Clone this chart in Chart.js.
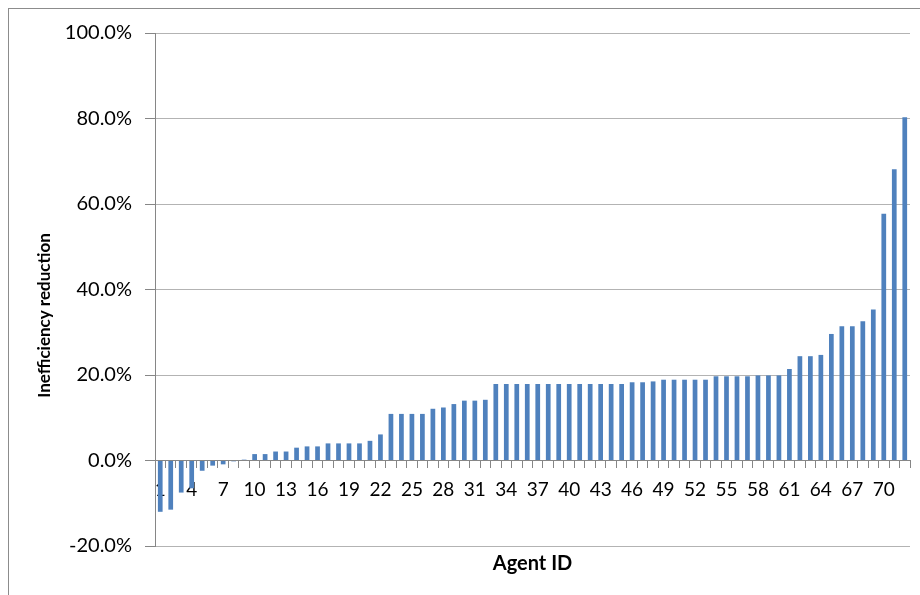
<!DOCTYPE html>
<html>
<head>
<meta charset="utf-8">
<script src="https://cdn.jsdelivr.net/npm/chart.js@4.4.1/dist/chart.umd.min.js"></script>
<style>
  html, body { margin: 0; padding: 0; background: #ffffff; overflow: hidden; }
  #frame { position: absolute; left: 8px; top: 8px; width: 1000px; height: 800px; border: 1px solid #8c8c8c; z-index: 0; }
  #wrap { position: absolute; left: 0; top: 0; width: 920px; height: 595px; z-index: 1; }
</style>
</head>
<body>
<div id="frame"></div>
<div id="wrap"><canvas id="c"></canvas></div>
<script>
// ---- Data ----
const categories = ["1","2","3","4","5","6","7","8","9","10","11","12","13","14","15","16","17","18",
  "19","20","21","22","23","24","25","26","27","28","29","30","31","32","33","34","35","36",
  "37","38","39","40","41","42","43","44","45","46","47","48","49","50","51","52","53","54",
  "55","56","57","58","59","60","61","62","63","64","65","66","67","68","69","70","71","72"];

// Inefficiency reduction, percent
const reduction = [
  -12.0, -11.5, -7.5, -6.5, -2.4, -1.2, -0.9, -0.2, 0.2, 1.5, 1.5, 2.1,
   2.1,   3.0,  3.3,  3.3,  4.0,  4.0,  4.0,  4.0, 4.6, 6.1, 10.9, 10.9,
  10.9,  10.9, 12.1, 12.4, 13.2, 14.0, 14.0, 14.2, 17.9, 17.9, 17.9, 17.9,
  17.9,  17.9, 17.9, 17.9, 17.9, 17.9, 17.9, 17.9, 17.9, 18.3, 18.3, 18.5,
  18.9,  18.9, 18.9, 18.9, 18.9, 19.7, 19.7, 19.7, 19.7, 19.9, 19.9, 19.9,
  21.4,  24.4, 24.4, 24.7, 29.6, 31.4, 31.4, 32.6, 35.3, 57.7, 68.1, 80.3
];

const Y_MIN = -20, Y_MAX = 100, Y_STEP = 20;
const LABEL_EVERY = 3;
const yTitle = "Inefficiency reduction";
const xTitle = "Agent ID";

// ---- Chart ----
const FONT = "Lato, 'Open Sans', sans-serif";

const yTitlePlugin = {
  id: 'yTitle',
  afterDraw(chart) {
    const ctx = chart.ctx;
    const ca = chart.chartArea;
    ctx.save();
    ctx.translate(45, (ca.top + ca.bottom) / 2 + 26);
    ctx.rotate(-Math.PI / 2);
    ctx.font = "bold 17px " + FONT;
    ctx.fillStyle = '#000000';
    ctx.textAlign = 'center';
    ctx.textBaseline = 'middle';
    ctx.fillText(yTitle, 0, 0);
    ctx.restore();
  }
};

new Chart(document.getElementById('c'), {
  type: 'bar',
  data: {
    labels: categories,
    datasets: [{
      data: reduction,
      backgroundColor: '#4f81bd',
      borderWidth: 0,
      barPercentage: 0.45,
      categoryPercentage: 1.0,
      xAxisID: 'x',
      yAxisID: 'y'
    }]
  },
  plugins: [yTitlePlugin],
  options: {
    responsive: true,
    maintainAspectRatio: false,
    animation: false,
    devicePixelRatio: 1,
    layout: { padding: { left: 0, right: 10, top: 33, bottom: 0 } },
    plugins: { legend: { display: false }, tooltip: { enabled: false }, title: { display: false } },
    scales: {
      x: {
        type: 'category',
        position: { y: 0 },
        z: 1,
        offset: true,
        grid: { display: true, drawOnChartArea: false, drawTicks: true, tickLength: 7, offset: true, color: '#868686', tickColor: '#868686' },
        border: { display: true, color: '#868686', width: 1 },
        ticks: {
          autoSkip: false, maxRotation: 0, minRotation: 0, padding: 11,
          color: '#000000',
          font: { family: FONT, size: 19 },
          callback: function(value, index) { return index % LABEL_EVERY === 0 ? categories[index] : ''; }
        }
      },
      xt: {
        type: 'category',
        position: 'bottom',
        grid: { display: false, drawTicks: false },
        border: { display: false },
        ticks: { display: false },
        title: { display: true, text: xTitle, color: '#000000', font: { family: FONT, size: 20, weight: 'bold' }, padding: { top: 6, bottom: 19 } }
      },
      y: {
        type: 'linear',
        position: 'left',
        min: Y_MIN, max: Y_MAX,
        afterFit: function(scale) { scale.width = 155; },
        grid: { color: '#b3b3b3', tickColor: '#868686', tickLength: 10, drawTicks: true },
        border: { display: true, color: '#868686', width: 1 },
        ticks: {
          stepSize: Y_STEP, padding: 13, color: '#000000',
          font: { family: FONT, size: 20 },
          callback: function(v) { return v.toFixed(1) + '%'; }
        },
        title: { display: false }
      }
    }
  }
});
</script>
</body>
</html>
